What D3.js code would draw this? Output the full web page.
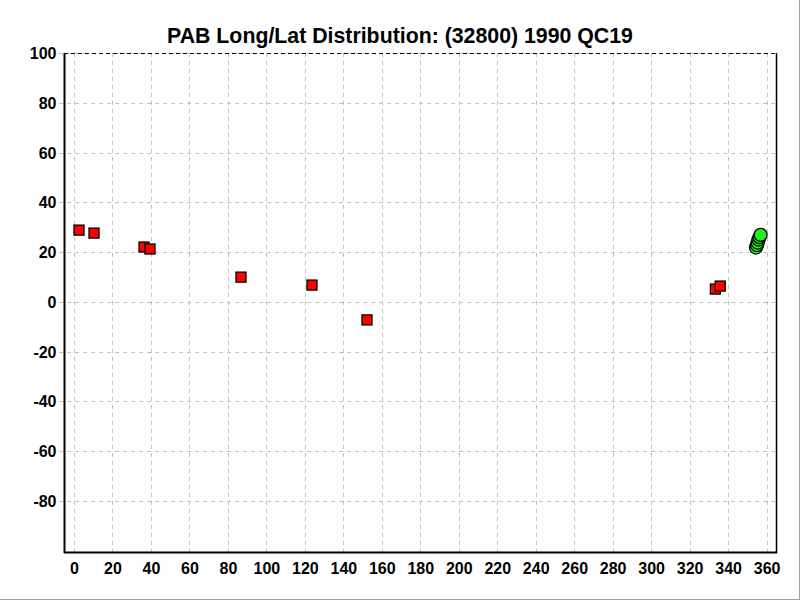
<!DOCTYPE html>
<html><head><meta charset="utf-8">
<script src="https://cdn.jsdelivr.net/npm/d3@7"></script>
<style>body{margin:0;background:#fff}svg{display:block}</style>
</head><body>
<svg id="c" width="800" height="600"></svg>
<script>
const title = "PAB Long/Lat Distribution: (32800) 1990 QC19";
const xTicks = [0,20,40,60,80,100,120,140,160,180,200,220,240,260,280,300,320,340,360];
const yTicks = [100,80,60,40,20,0,-20,-40,-60,-80];
const redLong = [2.6, 10.4, 36.4, 39.5, 86.8, 123.7, 152.3, 333.4, 335.9];
const redLat  = [28.8, 27.6, 22.0, 21.2, 9.9, 6.7, -7.3, 5.1, 6.3];
const greenLong = [354.5, 355.0, 355.4, 355.8, 356.3, 356.9];
const greenLat  = [21.8, 22.8, 23.8, 25.0, 26.0, 26.9];

const svg = d3.select("#c");
const L=64, R=776, T=53, B=552;
const x = d3.scaleLinear().domain([-5.2, 364.9]).range([L, R]);
const y = d3.scaleLinear().domain([-100.6, 100]).range([B, T]);
const fmt = d => String(d);

// frame
svg.append("line").attr("x1",0).attr("x2",800).attr("y1",599.5).attr("y2",599.5).attr("stroke","#a0a0a0");
svg.append("line").attr("x1",799.5).attr("x2",799.5).attr("y1",0).attr("y2",600).attr("stroke","#a0a0a0");

// grid
const g = svg.append("g");
g.selectAll(".vg").data(xTicks).join("line")
  .attr("x1",d=>Math.round(x(d))+0.5).attr("x2",d=>Math.round(x(d))+0.5)
  .attr("y1",T).attr("y2",B+5).attr("stroke","#c0c0c0").attr("stroke-dasharray","4,4");
g.selectAll(".hg").data(yTicks).join("line")
  .attr("y1",d=>Math.round(y(d))+0.5).attr("y2",d=>Math.round(y(d))+0.5)
  .attr("x1",L-5).attr("x2",R).attr("stroke","#c0c0c0").attr("stroke-dasharray","4,4");

// axes
const xa = svg.append("g").attr("transform",`translate(0,${B+0.5})`)
  .call(d3.axisBottom(x).tickValues(xTicks).tickFormat(fmt).tickSize(0).tickPadding(10));
xa.select(".domain").remove();
xa.selectAll("text").attr("font-family","Liberation Sans, Arial, sans-serif").attr("font-size",16).attr("font-weight","bold").attr("fill","#000");
const ya = svg.append("g").attr("transform",`translate(${L+0.5},0)`)
  .call(d3.axisLeft(y).tickValues(yTicks).tickFormat(fmt).tickSize(0).tickPadding(8));
ya.select(".domain").remove();
ya.selectAll("text").attr("font-family","Liberation Sans, Arial, sans-serif").attr("font-size",16).attr("font-weight","bold").attr("fill","#000").attr("dy","0.35em");

// border
svg.append("line").attr("x1",L+0.5).attr("x2",L+0.5).attr("y1",T).attr("y2",B+1).attr("stroke","#000").attr("stroke-width",2);
svg.append("line").attr("x1",L).attr("x2",R+1).attr("y1",B+0.5).attr("y2",B+0.5).attr("stroke","#000").attr("stroke-width",2);
svg.append("line").attr("x1",R+0.5).attr("x2",R+0.5).attr("y1",T).attr("y2",B+1).attr("stroke","#000").attr("stroke-width",1.5);
svg.append("line").attr("x1",L).attr("x2",R+1).attr("y1",T+0.5).attr("y2",T+0.5).attr("stroke","#000").attr("stroke-dasharray","4,3");

// points
const red = redLong.map((d,i)=>({x:d,y:redLat[i]}));
svg.append("g").selectAll("rect").data(red).join("rect")
  .attr("x",d=>x(d.x)-5).attr("y",d=>y(d.y)-5).attr("width",10).attr("height",10)
  .attr("fill","#ff0000").attr("stroke","#000").attr("stroke-width",1.3);
const green = greenLong.map((d,i)=>({x:d,y:greenLat[i]}));
svg.append("g").selectAll("circle").data(green).join("circle")
  .attr("cx",d=>x(d.x)).attr("cy",d=>y(d.y)).attr("r",6.5)
  .attr("fill","#22ee22").attr("stroke","#000").attr("stroke-width",1.3);

svg.append("text").attr("x",400).attr("y",43).attr("text-anchor","middle")
  .attr("font-family","Liberation Sans, Arial, sans-serif").attr("font-size",21.3).attr("font-weight","bold").text(title);
</script>
</body></html>
